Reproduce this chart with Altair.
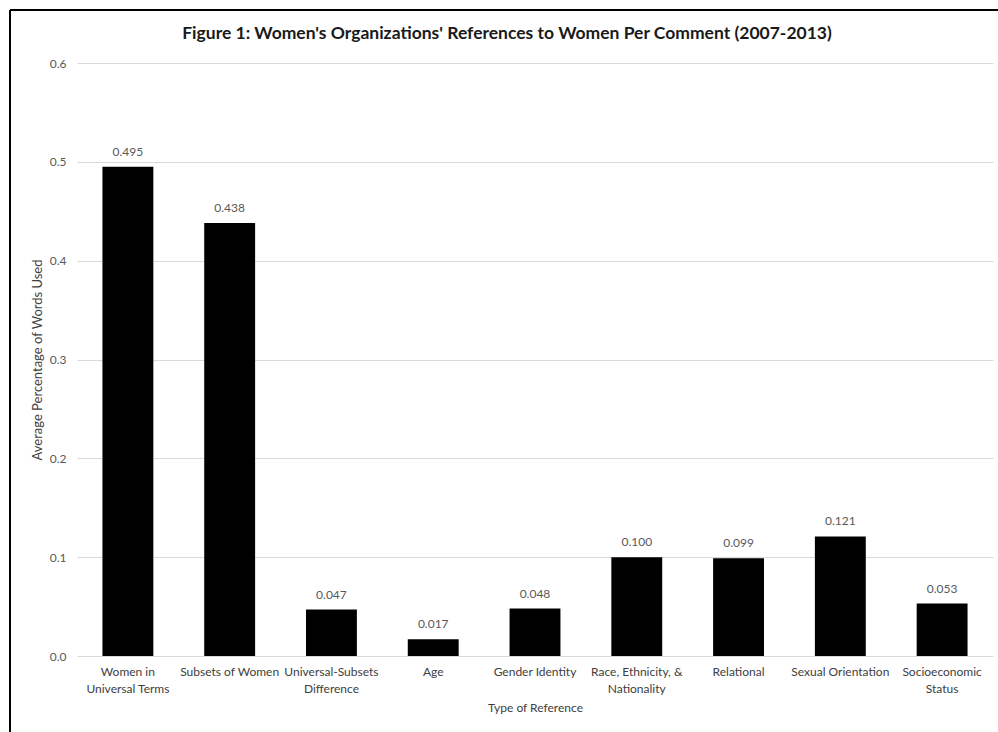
import altair as alt
import pandas as pd

categories = [
    "Women in\nUniversal Terms",
    "Subsets of Women",
    "Universal-Subsets\nDifference",
    "Age",
    "Gender Identity",
    "Race, Ethnicity, &\nNationality",
    "Relational",
    "Sexual Orientation",
    "Socioeconomic\nStatus",
]
values = [0.495, 0.438, 0.047, 0.017, 0.048, 0.100, 0.099, 0.121, 0.053]
title_text = ["Figure 1: Women's Organizations' References to Women Per Comment (2007-2013)"]

df = pd.DataFrame({"cat": categories, "val": values})
tdf = pd.DataFrame({"t": title_text})

FONT = "Lato"
GRAY = "#595959"
DARK = "#404040"

x = alt.X(
    "cat:N",
    sort=categories,
    scale=alt.Scale(paddingInner=0.5, paddingOuter=0.25),
    axis=alt.Axis(
        title="Type of Reference",
        labelAngle=0,
        labelExpr="split(datum.label, '\\n')",
        labelFontSize=12,
        labelColor=DARK,
        labelFont=FONT,
        labelPadding=10,
        labelLineHeight=17,
        ticks=False,
        domain=False,
        titleFont=FONT,
        titleFontSize=12,
        titleFontWeight="normal",
        titleColor=DARK,
        titlePadding=8,
    ),
)
y = alt.Y(
    "val:Q",
    scale=alt.Scale(domain=[0, 0.6]),
    axis=alt.Axis(
        title="Average Percentage of Words Used",
        values=[0, 0.1, 0.2, 0.3, 0.4, 0.5, 0.6],
        format=".1f",
        labelFontSize=12,
        labelColor=GRAY,
        labelFont=FONT,
        labelPadding=11,
        ticks=False,
        domain=False,
        gridColor="#d9d9d9",
        gridWidth=1,
        titleFont=FONT,
        titleFontSize=13,
        titleFontWeight="normal",
        titleColor=DARK,
        titlePadding=5,
    ),
)

bars = alt.Chart(df).mark_bar(color="black").encode(x=x, y=y)
labels = alt.Chart(df).mark_text(
    dy=-11, baseline="alphabetic", fontSize=12, color=GRAY, font=FONT
).encode(x=x, y=y, text=alt.Text("val:Q", format=".3f"))

title = alt.Chart(tdf).mark_text(
    font=FONT, fontSize=17.5, fontWeight="bold", color="#1a1a1a",
    baseline="alphabetic", align="center",
).encode(x=alt.value(430), y=alt.value(-24), text="t:N")

border_left = alt.Chart(df).mark_rule(color="#000000", strokeWidth=1.5).encode(
    x=alt.value(-67), y=alt.value(-53), y2=alt.value(700)
)
border_top = alt.Chart(df).mark_rule(color="#000000", strokeWidth=1.5).encode(
    x=alt.value(-67), x2=alt.value(1000), y=alt.value(-53)
)

chart = (
    alt.layer(bars, labels, title, border_left, border_top)
    .properties(
        width=916,
        height=593,
        autosize=alt.AutoSizeParams(type="none"),
        padding={"left": 77, "top": 63, "right": 5, "bottom": 76},
        background="white",
    )
    .configure_view(stroke=None)
)

chart.save("out.html", embed_options={"renderer": "svg", "actions": False})
